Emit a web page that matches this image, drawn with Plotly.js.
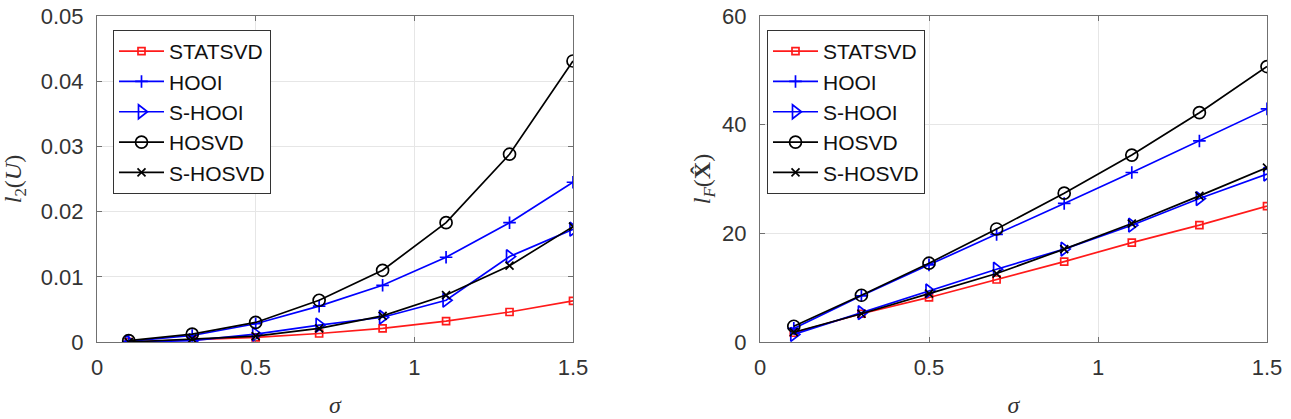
<!DOCTYPE html>
<html><head><meta charset="utf-8">
<script src="https://cdn.plot.ly/plotly-3.0.1.min.js"></script>
<style>html,body{margin:0;padding:0;background:#fff}#chart{width:1291px;height:419px}</style>
</head><body><div id="chart"></div>
<script>
// ---- data ----
const sigma = [0.1, 0.3, 0.5, 0.7, 0.9, 1.1, 1.3, 1.5];
const seriesNames = ['STATSVD', 'HOOI', 'S-HOOI', 'HOSVD', 'S-HOSVD'];

// left panel: l2(U)
const l2U_STATSVD = [0.0000, 0.0003, 0.0007, 0.0013, 0.0021, 0.0032, 0.0046, 0.0063];
const l2U_HOOI    = [0.0001, 0.0010, 0.0028, 0.0055, 0.0087, 0.0130, 0.0183, 0.0245];
const l2U_SHOOI   = [0.0000, 0.0002, 0.0012, 0.0026, 0.0038, 0.0064, 0.0131, 0.0173];
const l2U_HOSVD   = [0.0002, 0.0012, 0.0030, 0.0064, 0.0110, 0.0183, 0.0288, 0.0431];
const l2U_SHOSVD  = [0.0000, 0.0005, 0.0009, 0.0021, 0.0040, 0.0072, 0.0117, 0.0177];

// right panel: lF(X-hat)
const lF_STATSVD = [1.7, 5.2, 8.2, 11.5, 14.8, 18.3, 21.5, 25.0];
const lF_HOOI    = [2.5, 8.5, 14.2, 19.8, 25.5, 31.2, 37.0, 42.9];
const lF_SHOOI   = [1.4, 5.4, 9.4, 13.4, 17.1, 21.5, 26.4, 30.9];
const lF_HOSVD   = [2.9, 8.6, 14.5, 20.8, 27.4, 34.4, 42.2, 50.7];
const lF_SHOSVD  = [1.8, 5.2, 8.9, 12.6, 17.1, 21.8, 26.9, 32.1];

const xTickVals = [0, 0.5, 1, 1.5];
const xTickText = ['0', '0.5', '1', '1.5'];
const leftYTickVals = [0, 0.01, 0.02, 0.03, 0.04, 0.05];
const leftYTickText = ['0', '0.01', '0.02', '0.03', '0.04', '0.05'];
const rightYTickVals = [0, 20, 40, 60];
const rightYTickText = ['0', '20', '40', '60'];

// ---- styles ----
const styles = [
  {color: '#ff1a1a', symbol: 'square-open', size: 7},
  {color: '#0000ff', symbol: 'cross-thin-open', size: 9},
  {color: '#0000ff', symbol: 'triangle-right-open', size: 12},
  {color: '#000000', symbol: 'circle-open', size: 12},
  {color: '#000000', symbol: 'x-thin-open', size: 8}
];

const leftData = [l2U_STATSVD, l2U_HOOI, l2U_SHOOI, l2U_HOSVD, l2U_SHOSVD];
const rightData = [lF_STATSVD, lF_HOOI, lF_SHOOI, lF_HOSVD, lF_SHOSVD];

const traces = [];
function addTraces(dataSets, xa, ya, leg) {
  dataSets.forEach((ys, i) => {
    const s = styles[i];
    traces.push({
      x: sigma, y: ys, name: seriesNames[i], type: 'scatter', mode: 'lines+markers',
      xaxis: xa, yaxis: ya, legend: leg,
      line: {color: s.color, width: 1.7},
      marker: {symbol: s.symbol, size: s.size, color: s.color, line: {color: s.color, width: 1.7}}
    });
  });
}
addTraces(leftData, 'x', 'y', 'legend');
addTraces(rightData, 'x2', 'y2', 'legend2');

const W = 1291;
const tickFont = {family: 'Liberation Sans, Arial, sans-serif', size: 22, color: '#333333'};
const axCommon = {
  showline: true, mirror: 'ticks', linecolor: '#707070', linewidth: 1,
  ticks: 'inside', ticklen: 5, tickcolor: '#707070', tickwidth: 1,
  showgrid: true, gridcolor: '#e6e6e6', gridwidth: 1, zeroline: false,
  tickfont: tickFont, fixedrange: true
};
const titleFont = {family: 'Liberation Serif, Times New Roman, serif', size: 24, color: '#333333'};
const legCommon = {
  bgcolor: '#ffffff', bordercolor: '#333333', borderwidth: 1,
  font: {family: 'Liberation Sans, Arial, sans-serif', size: 21, color: '#111111'},
  xanchor: 'left', yanchor: 'top', itemwidth: 45, entrywidth: 176
};

const layout = {
  width: W, height: 419,
  margin: {l: 0, r: 0, t: 16, b: 77},
  paper_bgcolor: '#ffffff', plot_bgcolor: '#ffffff',
  showlegend: true,
  xaxis: Object.assign({}, axCommon, {
    domain: [97 / W, 573 / W], range: [0, 1.5], tickvals: xTickVals, ticktext: xTickText, anchor: 'y',
    ticklabelstandoff: 6,
    title: {text: '<i>σ</i>', font: titleFont, standoff: 16}
  }),
  yaxis: Object.assign({}, axCommon, {
    domain: [0, 1], range: [0, 0.05], tickvals: leftYTickVals, ticktext: leftYTickText, anchor: 'x',
    ticklabelstandoff: 8,
    title: {text: '<i>l</i><sub>2</sub>(<i>U</i>)', font: titleFont, standoff: 16}
  }),
  xaxis2: Object.assign({}, axCommon, {
    domain: [760 / W, 1267 / W], range: [0, 1.5], tickvals: xTickVals, ticktext: xTickText, anchor: 'y2',
    ticklabelstandoff: 6,
    title: {text: '<i>σ</i>', font: titleFont, standoff: 16}
  }),
  yaxis2: Object.assign({}, axCommon, {
    domain: [0, 1], range: [0, 60], tickvals: rightYTickVals, ticktext: rightYTickText, anchor: 'x2',
    ticklabelstandoff: 8,
    title: {text: '<i>l</i><sub><i>F</i></sub>(<b>X̂</b>)', font: titleFont, standoff: 4}
  }),
  legend: Object.assign({}, legCommon, {x: 113 / W, y: (342 - 30) / 326}),
  legend2: Object.assign({}, legCommon, {x: 767 / W, y: (342 - 30) / 326})
};

Plotly.newPlot('chart', traces, layout, {displayModeBar: false, staticPlot: true});
</script>
</body></html>
